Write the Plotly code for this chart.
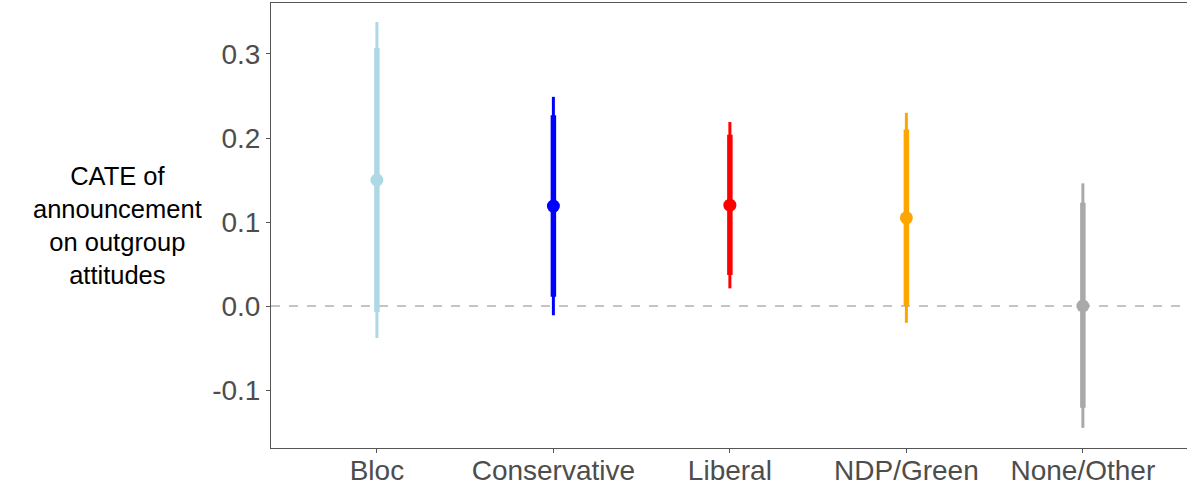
import plotly.graph_objects as go

categories = ["Bloc", "Conservative", "Liberal", "NDP/Green", "None/Other"]
colors = ["#ADD8E6", "#0000FF", "#FF0000", "#FFA500", "#A9A9A9"]
estimate = [0.150, 0.119, 0.120, 0.105, 0.000]
ci90_low = [-0.007, 0.011, 0.037, 0.000, -0.121]
ci90_high = [0.307, 0.227, 0.204, 0.210, 0.123]
ci95_low = [-0.038, -0.011, 0.021, -0.020, -0.145]
ci95_high = [0.338, 0.249, 0.219, 0.230, 0.146]
y_ticks = [-0.1, 0.0, 0.1, 0.2, 0.3]
y_tick_labels = ["-0.1", "0.0", "0.1", "0.2", "0.3"]

fig = go.Figure()
fig.add_shape(type="line", xref="paper", yref="y", x0=0, x1=1, y0=0, y1=0,
              line=dict(color="#c4c4c4", width=2, dash="dash"), layer="below")

for i, cat in enumerate(categories):
    e = estimate[i]
    fig.add_trace(go.Scatter(
        x=[cat], y=[e], mode="markers",
        marker=dict(size=0.1, color=colors[i], opacity=0),
        error_y=dict(type="data", symmetric=False,
                     array=[ci95_high[i] - e], arrayminus=[e - ci95_low[i]],
                     color=colors[i], thickness=3, width=0),
        showlegend=False, hoverinfo="skip"))
    fig.add_trace(go.Scatter(
        x=[cat], y=[e], mode="markers",
        marker=dict(size=13, color=colors[i]),
        error_y=dict(type="data", symmetric=False,
                     array=[ci90_high[i] - e], arrayminus=[e - ci90_low[i]],
                     color=colors[i], thickness=5.5, width=0),
        showlegend=False))

fig.update_layout(
    width=1187, height=486,
    margin=dict(l=271, r=0, t=3, b=38, autoexpand=False),
    plot_bgcolor="white", paper_bgcolor="white",
    font=dict(family="Liberation Sans, Arial, sans-serif", color="#4d4d4d"),
    xaxis=dict(type="category", categoryorder="array", categoryarray=categories,
               range=[-0.6, 4.59], showgrid=False, zeroline=False, automargin=False,
               showline=True, mirror=True, linecolor="#555555", linewidth=1,
               ticks="outside", ticklen=4, tickcolor="#555555",
               ticklabelstandoff=-7,
               tickfont=dict(size=28, color="#4d4d4d")),
    yaxis=dict(range=[-0.169, 0.3607], tickvals=y_ticks, ticktext=y_tick_labels,
               showgrid=False, zeroline=False, automargin=False,
               showline=True, mirror=True, linecolor="#555555", linewidth=1,
               ticks="outside", ticklen=4, tickcolor="#555555",
               tickfont=dict(size=28, color="#4d4d4d")),
    annotations=[dict(text="CATE of<br>announcement<br>on outgroup<br>attitudes",
                      xref="paper", yref="paper", x=-0.168, y=0.5,
                      xanchor="center", yanchor="middle", showarrow=False,
                      align="center", font=dict(size=25.5, color="black"))],
)

fig.write_html("out.html")
